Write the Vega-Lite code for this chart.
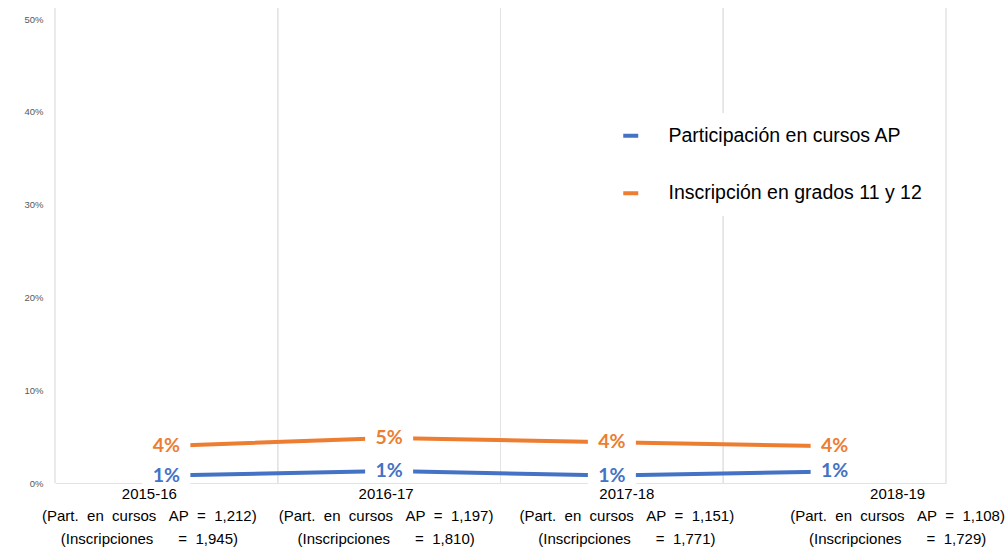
{
  "$schema": "https://vega.github.io/schema/vega-lite/v6.json",
  "width": 891,
  "height": 475,
  "autosize": "none",
  "padding": {"left": 55, "top": 8, "right": 60, "bottom": 70},
  "background": "white",
  "config": {"view": {"stroke": null}, "font": "Liberation Sans"},
  "data": {
    "values": [
      {"period": "2015-16|(Part.\u00a0\u00a0en\u00a0\u00a0cursos\u00a0\u00a0\u00a0AP\u00a0\u00a0=\u00a0\u00a01,212)|(Inscripciones\u00a0\u00a0\u00a0\u00a0\u00a0\u00a0=\u00a0\u00a01,945)", "series": "Participación en cursos AP", "value": 0.008},
      {"period": "2016-17|(Part.\u00a0\u00a0en\u00a0\u00a0cursos\u00a0\u00a0\u00a0AP\u00a0\u00a0=\u00a0\u00a01,197)|(Inscripciones\u00a0\u00a0\u00a0\u00a0\u00a0\u00a0=\u00a0\u00a01,810)", "series": "Participación en cursos AP", "value": 0.013},
      {"period": "2017-18|(Part.\u00a0\u00a0en\u00a0\u00a0cursos\u00a0\u00a0\u00a0AP\u00a0\u00a0=\u00a0\u00a01,151)|(Inscripciones\u00a0\u00a0\u00a0\u00a0\u00a0\u00a0=\u00a0\u00a01,771)", "series": "Participación en cursos AP", "value": 0.008},
      {"period": "2018-19|(Part.\u00a0\u00a0en\u00a0\u00a0cursos\u00a0\u00a0\u00a0AP\u00a0\u00a0=\u00a0\u00a01,108)|(Inscripciones\u00a0\u00a0\u00a0\u00a0\u00a0\u00a0=\u00a0\u00a01,729)", "series": "Participación en cursos AP", "value": 0.0125},
      {"period": "2015-16|(Part.\u00a0\u00a0en\u00a0\u00a0cursos\u00a0\u00a0\u00a0AP\u00a0\u00a0=\u00a0\u00a01,212)|(Inscripciones\u00a0\u00a0\u00a0\u00a0\u00a0\u00a0=\u00a0\u00a01,945)", "series": "Inscripción en grados 11 y 12", "value": 0.040},
      {"period": "2016-17|(Part.\u00a0\u00a0en\u00a0\u00a0cursos\u00a0\u00a0\u00a0AP\u00a0\u00a0=\u00a0\u00a01,197)|(Inscripciones\u00a0\u00a0\u00a0\u00a0\u00a0\u00a0=\u00a0\u00a01,810)", "series": "Inscripción en grados 11 y 12", "value": 0.0485},
      {"period": "2017-18|(Part.\u00a0\u00a0en\u00a0\u00a0cursos\u00a0\u00a0\u00a0AP\u00a0\u00a0=\u00a0\u00a01,151)|(Inscripciones\u00a0\u00a0\u00a0\u00a0\u00a0\u00a0=\u00a0\u00a01,771)", "series": "Inscripción en grados 11 y 12", "value": 0.044},
      {"period": "2018-19|(Part.\u00a0\u00a0en\u00a0\u00a0cursos\u00a0\u00a0\u00a0AP\u00a0\u00a0=\u00a0\u00a01,108)|(Inscripciones\u00a0\u00a0\u00a0\u00a0\u00a0\u00a0=\u00a0\u00a01,729)", "series": "Inscripción en grados 11 y 12", "value": 0.0395}
    ]
  },
  "layer": [
    {
      "mark": {"type": "rule", "color": "#e3e3e3", "strokeWidth": 1},
      "encoding": {
        "x": {"field": "period", "type": "nominal", "sort": null, "bandPosition": 0,
          "scale": {"type": "band", "paddingInner": 0, "paddingOuter": 0},
          "axis": {"title": null, "labelAngle": 0, "ticks": false, "grid": false, "domain": true, "domainColor": "#e3e3e3",
            "labelExpr": "split(datum.label, '|')", "labelFontSize": 15, "labelColor": "#000000", "labelLimit": 0,
            "labelLineHeight": 22.5, "labelPadding": 3, "labelOverlap": false, "labelBound": false, "labelFlush": false,
            "labelFont": "Liberation Sans",
            "labelOffset": {"condition": [
              {"test": "datum.index < 0.1", "value": -17},
              {"test": "datum.index < 0.5", "value": -3},
              {"test": "datum.index < 0.9", "value": 15}
            ], "value": 63}}}
      }
    },
    {
      "mark": {"type": "rule", "color": "#e3e3e3", "strokeWidth": 1},
      "encoding": {
        "x": {"field": "period", "type": "nominal", "sort": null, "bandPosition": 1}
      }
    },
    {
      "mark": {"type": "line", "strokeWidth": 4},
      "encoding": {
        "x": {"field": "period", "type": "nominal", "sort": null, "bandPosition": 0.5},
        "y": {"field": "value", "type": "quantitative",
          "scale": {"domain": [0, 0.512], "nice": false},
          "axis": {"title": null, "values": [0, 0.1, 0.2, 0.3, 0.4, 0.5], "format": ".0%", "domain": false, "ticks": false, "grid": false,
            "labelFontSize": 9.5, "labelColor": "#595959", "labelPadding": 12, "labelFont": "Liberation Sans"}},
        "color": {"field": "series", "type": "nominal",
          "scale": {"domain": ["Participación en cursos AP", "Inscripción en grados 11 y 12"], "range": ["#4472C4", "#ED7D31"]},
          "legend": {"title": null, "orient": "none", "legendX": 553, "legendY": 105, "symbolType": "stroke",
            "symbolStrokeWidth": 4, "symbolSize": 225, "labelFontSize": 19.5, "labelColor": "#000000", "labelFont": "Liberation Sans",
            "labelOffset": 28, "labelLimit": 0, "rowPadding": 36.5, "padding": 13, "fillColor": "white", "zindex": 1}},
        "detail": {"field": "series"}
      }
    },
    {
      "mark": {"type": "point", "shape": "M-1,-0.42H1V0.42H-1Z", "size": 2304, "filled": true, "fill": "white", "opacity": 1, "strokeWidth": 0},
      "encoding": {
        "x": {"field": "period", "type": "nominal", "sort": null, "bandPosition": 0.5},
        "y": {"field": "value", "type": "quantitative"}
      }
    },
    {
      "mark": {"type": "text", "font": "Lato", "fontWeight": "bold", "fontSize": 19.5, "align": "center", "baseline": "middle"},
      "encoding": {
        "x": {"field": "period", "type": "nominal", "sort": null, "bandPosition": 0.5},
        "y": {"field": "value", "type": "quantitative"},
        "text": {"field": "value", "type": "quantitative", "format": ".0%"},
        "color": {"field": "series", "type": "nominal", "legend": null}
      }
    }
  ]
}
